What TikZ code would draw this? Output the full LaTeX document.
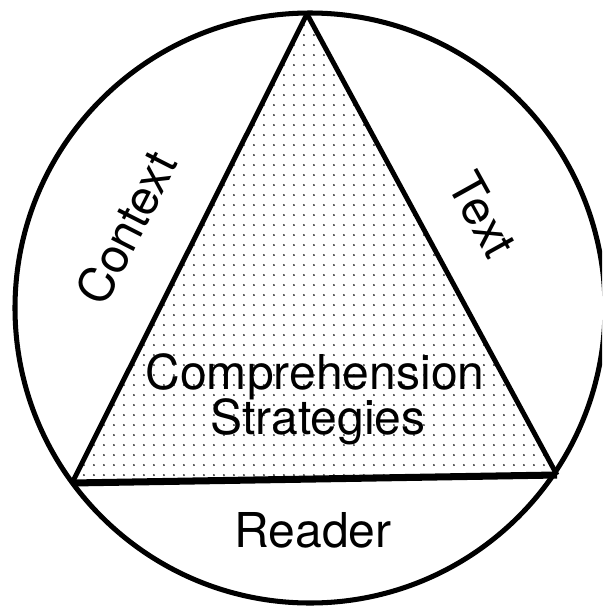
\documentclass[tikz,border=0pt]{standalone}
\usepackage{fontspec}
\setmainfont{TeX Gyre Heros}
\usetikzlibrary{patterns}

\pgfdeclarepatternformonly{stipple}{\pgfpointorigin}{\pgfpoint{8.5pt}{8.5pt}}{\pgfpoint{8.5pt}{8.5pt}}%
{\pgfpathcircle{\pgfpoint{4.25pt}{4.25pt}}{0.9pt}\pgfusepath{fill}}

\tikzset{
  rim/.style={line width=4.3pt},
  side/.style={line width=4.2pt, line join=round},
  lbl/.style={font=\fontsize{41}{41}\selectfont, inner sep=0pt}
}

\begin{document}
\begin{tikzpicture}[x=0.03cm, y=-0.03cm]
				\useasboundingbox (0,0) rectangle (602,609);
				\clip (0,0) rectangle (602,609);
				
				\coordinate (o) at (310,308);
				\coordinate (apex) at (307,14);
				\coordinate (left) at (72,483);
				\coordinate (right) at (557,475);
				
				\fill[pattern=stipple, pattern color=black!85] (apex) -- (left) -- (right) -- cycle;
				\draw[rim] (o) circle[radius=295];
				\draw[side] (left) -- (apex) -- (right);
				\draw[line width=6pt] (left) -- (right);
				
				\node[lbl, anchor=base] (comp) at (315,389) {Comprehension};
				\node[lbl, anchor=base] (strat) at (318,434) {Strategies};
				\node[lbl, anchor=base] (reader) at (313,547) {Reader};
				\node[lbl, rotate=63] (context) at (126,228) {Context};
				\node[lbl, rotate=-61] (text) at (483,215) {Text};
			\end{tikzpicture}
\end{document}
